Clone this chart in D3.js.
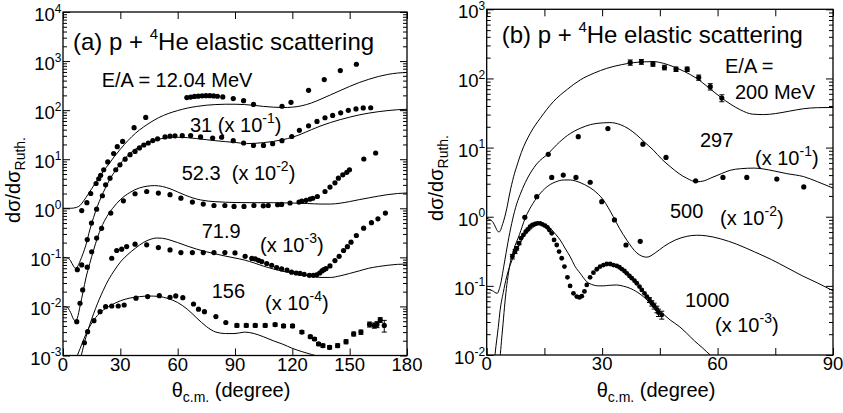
<!DOCTYPE html>
<html><head><meta charset="utf-8">
<script src="https://cdn.jsdelivr.net/npm/d3@7"></script>
<style>
body{margin:0;background:#fff}
text{font-family:"Liberation Sans",Arial,Helvetica,sans-serif;fill:#000}
</style></head>
<body><svg id="c" width="843" height="413"></svg>
<script>
// ---------------- DATA: panel (a) ----------------
const aXTicks = [0,30,60,90,120,150,180];
const aYExps = [-3,-2,-1,0,1,2,3,4];
// 12.04 MeV (x1)
const a1204Pts = [[9.8,0.9],[12.5,1.3],[14.5,2.0],[17.3,3.2],[18.7,4.0],[19.7,4.7],[21.3,6.1],[23.4,8.8],[26.5,13],[28.4,18],[31.2,23],[37.2,44],[43.3,71],
 [64.8,180],[66.8,185],[68.8,190],[70.8,193],[72.8,196],[74.8,197],[76.8,197],[78.8,195],[80.8,192],[83.6,186],
 [89.1,172],[94.5,156],[99.7,131],[114.6,120],[119.3,144],[128.5,254],[136.7,419],[145.1,640],[153.5,861]];
const a1204Curve = [[0,1],[4,1],[7,1.04],[9,1.15],[11,1.45],[13,1.9],[15,2.5],[17,3.3],[19,4.3],[21,5.6],[24,8],[27,11.5],[30,16],[34,24],[38,34],[42,45],[46,57],[50,70],[55,85],[60,98],[65,110],[70,119],[75,126],[80,130],[85,132],[90,132],[95,130],[100,125],[105,119],[110,115],[115,113],[120,115],[125,123],[130,140],[135,168],[140,205],[145,250],[150,305],[155,365],[160,425],[165,485],[170,535],[175,570],[180,585]];
// 31 MeV (x 1e-1)
const a31Pts = [[7.5,0.056],[9.8,0.07],[12.7,0.23],[14.9,0.5],[17.6,0.96],[20.6,1.8],[22.3,3.0],[24.6,4.1],[27.6,6.1],[29.8,7.7],[32.5,10],[35.1,12.4],[37.7,14.4],[40,17],[42.3,19.5],[44.6,21.4],[47,24],[49.5,26],[53.4,28.4],[56,29.5],[58.6,30],[62.4,30.2],[66.8,30.3],[72,28.4],[78.3,27],[83,28],[89.1,23.9],[94.5,21.4],[99.7,19.1],[104.9,19.1],[109.7,20.7],[114.6,23.9],[119.7,29],[123.7,38.7],[128.5,48],[132.9,59],[137.1,70],[141.1,78],[145.3,88],[149.3,99],[153.3,106],[157.1,111],[161,112]];
const a31Curve = [[0,0.1],[2,0.098],[4,0.085],[5.5,0.066],[6.5,0.06],[7.5,0.064],[9,0.085],[10.5,0.12],[12,0.18],[14,0.36],[16,0.65],[18,1.1],[20,1.7],[22,2.5],[25,4.2],[28,6.3],[31,9],[35,13],[40,18],[45,22],[50,25.5],[55,27.5],[60,28],[65,27.5],[70,26.3],[75,25],[80,23.8],[85,22.8],[90,22],[96,20.8],[100,21],[105,21.8],[110,23],[115,25],[120,28],[125,33],[130,40],[135,48],[140,56],[145,64],[150,72],[155,80],[160,87],[165,93],[170,98],[175,102],[180,104]];
// 52.3 MeV (x 1e-2)
const a523Pts = [[7.2,0.0049],[8.9,0.0116],[10.3,0.0217],[12.7,0.063],[15,0.13],[17.6,0.247],[20.2,0.39],[25,0.8],[31.6,1.42],[37.7,1.98],[43.8,2.2],[49.9,2.04],[56,1.89],[61.7,1.61],[67.7,1.34],[73.4,1.22],[79,1.14],[84.7,1.14],[89.5,1.09],[94.7,1.09],[99.9,1.14],[104.8,1.12],[107.4,1.14],[112.3,1.18],[114.4,1.2],[118.8,1.28],[123.5,1.34],[125,1.4],[127.2,1.45],[129.3,1.54],[130.7,1.6],[133.1,1.74],[137.1,2.2],[139.7,2.7],[142.3,3.3],[144.1,4.1],[146.4,4.8],[148.5,5.4],[149.9,6.1],[157.4,10.1],[163.6,13.4]];
const a523Curve = [[0,0.01],[2,0.0097],[4,0.0075],[5.5,0.0055],[6.5,0.005],[7.5,0.0058],[9,0.0105],[10.5,0.02],[12,0.038],[14,0.075],[16,0.14],[18,0.25],[20,0.4],[23,0.68],[26,1.0],[30,1.5],[35,2.1],[40,2.6],[44,2.82],[48,2.9],[52,2.78],[56,2.5],[60,2.15],[64,1.85],[68,1.62],[72,1.48],[76,1.4],[80,1.36],[85,1.33],[90,1.31],[100,1.3],[110,1.3],[120,1.28],[128,1.25],[135,1.22],[140,1.22],[145,1.27],[150,1.37],[155,1.5],[160,1.63],[165,1.77],[170,1.9],[175,2.0],[180,2.05]];
// 71.9 MeV (x 1e-3)
const a719Pts = [[25.5,0.096],[28.1,0.138],[30.7,0.147],[33.3,0.166],[37.7,0.186],[43.8,0.18],[49.9,0.158],[56,0.142],[61.7,0.125],[67.7,0.125],[73.4,0.125],[79,0.125],[84.7,0.125],[90,0.123],[95.3,0.105],[98.8,0.095],[100.6,0.093],[102.3,0.087],[104,0.082],[106.6,0.075],[109.2,0.069],[111.8,0.062],[114.4,0.058],[117.2,0.055],[119.6,0.05],[122,0.048],[124,0.047],[126.2,0.045],[128.9,0.043],[131,0.043],[132.7,0.044],[134.3,0.048],[135.5,0.053],[136.5,0.056],[137.6,0.059],[139.7,0.067],[142.3,0.086],[144.5,0.105],[146.8,0.138],[148.8,0.165],[150.7,0.204],[153.5,0.279],[157.3,0.394],[161.4,0.51],[164.8,0.61],[168.7,0.8]];
const a719Curve = [[8,0.0008],[9.5,0.001],[11,0.0017],[13,0.0032],[15,0.0055],[17,0.009],[19,0.014],[21,0.021],[24,0.036],[27,0.055],[30,0.08],[34,0.115],[38,0.155],[42,0.2],[46,0.235],[49,0.248],[52,0.245],[56,0.225],[60,0.2],[65,0.17],[70,0.147],[75,0.13],[80,0.117],[85,0.106],[90,0.097],[95,0.088],[100,0.077],[105,0.066],[110,0.058],[115,0.052],[120,0.048],[125,0.044],[130,0.041],[135,0.039],[140,0.039],[145,0.042],[150,0.047],[155,0.053],[160,0.06],[165,0.065],[170,0.069],[175,0.072],[180,0.073]];
// 156 MeV (x 1e-4)  [theta, value, error]
const a156Pts = [[11.2,0.00182],[12.9,0.00306],[16.2,0.00513],[19.4,0.00783],[22.3,0.0099],[25.5,0.0102],[28.9,0.0102],[32,0.0107],[38.2,0.0147],[44.3,0.0159],[50.4,0.0166],[56,0.0154],[59,0.0164],[62.7,0.0151],[68.3,0.0112],[70.9,0.0088],[74,0.0078],[80,0.0062],[85.2,0.0047],[91,0.0041,0.0003],[95.9,0.0041,0.0003],[100.6,0.0041,0.0003],[105.8,0.0041,0.0003],[111,0.00426,0.0003],[115.4,0.004,0.0003],[120.1,0.004,0.0003],[125,0.003,0.0002],[129.4,0.00242,0.00016],[131.6,0.00217,0.00015],[133.7,0.00172,0.00012],[136,0.00159,0.00012],[139.5,0.00147,0.00012],[143.7,0.00159,0.00014],[148.1,0.00191,0.00018],[152.1,0.00275,0.00025],[155.9,0.003,0.0003],[160.4,0.0043,0.0005],[162.9,0.0041,0.0005],[164.3,0.0043,0.0006],[166,0.0053,0.0006],[168.1,0.0041,0.0011]];
const a156Curve = [[6,0.0007],[7.5,0.001],[9,0.0014],[11,0.0022],[13,0.0033],[16,0.0052],[20,0.0078],[25,0.0105],[30,0.013],[35,0.0148],[40,0.0158],[45,0.0163],[50,0.016],[55,0.0145],[60,0.012],[65,0.0088],[70,0.0058],[75,0.0039],[80,0.003],[85,0.0028],[90,0.0028],[95,0.003],[100,0.0028],[105,0.0024],[110,0.002],[115,0.0017],[120,0.0014],[125,0.0012],[130,0.00105],[135,0.00093],[140,0.0008]];

// ---------------- DATA: panel (b) ----------------
const bXTicks = [0,15,30,45,60,75,90];
const bXLabels = [0,30,60,90];
const bYExps = [-2,-1,0,1,2,3];
const b200Pts = [[37.3,170,15],[40.2,174,14],[43.2,162,12],[46.2,144,11],[49.2,136,10],[52.1,136,10],[55.1,103,9],[58.1,76,8],[61.1,52,6]];
const b200Curve = [[0,0.95],[1.5,0.85],[3.2,0.6],[4.2,0.8],[5.2,1.3],[6,2.2],[7,3.8],[8,5.8],[9,8.5],[11.3,16],[14,27],[17.3,46],[21,70],[24.3,95],[28,120],[31.2,140],[35,158],[38.1,169],[41,174],[43.3,175],[46,165],[48.5,148],[51.5,125],[54.6,100],[57.5,75],[60.7,54],[63.5,42],[66,35],[69,30.5],[72,30],[75,31],[78.5,33.5],[82.4,36.5],[86,37.8],[90,38]];
const b297Pts = [[16,8.0],[23.8,14.4],[31.5,18.8],[40.6,11.2],[46.6,7.2],[54.3,3.3],[61.4,3.7],[67.6,3.7],[75.4,3.5],[82.4,2.7]];
const b297Curve = [[0,0.09],[1.5,0.085],[2.7,0.078],[3.5,0.1],[4.5,0.2],[5.5,0.42],[6.5,0.8],[7.5,1.35],[8.7,2.1],[10,3.1],[13,5.8],[16,8.2],[18.2,11],[21,15],[24.3,19],[27,21.5],[30.3,22.8],[32,23],[34.7,21.5],[37,18.5],[39,15.2],[41,12],[43.3,9.2],[45.5,6.8],[47.7,5.3],[50,4.2],[52,3.6],[54.5,3.2],[56.5,3.3],[58.1,3.6],[61,4.2],[63.3,4.7],[66,4.95],[69.5,5.05],[72,4.9],[74.6,4.6],[78,4.2],[82.4,3.8],[86,3.2],[90,2.6]];
const b500Pts = [[9.9,0.98],[13,1.95],[16.9,3.7],[19.9,4.0],[23.2,3.7],[26.9,3.15],[29.9,1.65],[33.2,0.9],[36.2,0.39],[39.9,0.44]];
const b500Curve = [[0,0.01],[1.5,0.008],[2.5,0.006],[3.3,0.008],[4,0.02],[5,0.08],[6,0.2],[7,0.33],[8.5,0.55],[10,0.95],[12,1.55],[14,2.2],[16,2.8],[18,3.2],[20,3.4],[21.7,3.4],[23,3.3],[25.5,2.9],[27.7,2.44],[30.3,1.75],[32.9,1.0],[34.5,0.68],[36.4,0.46],[39,0.3],[41.6,0.26],[43.8,0.3],[46,0.37],[49,0.46],[52,0.52],[54.6,0.54],[57,0.53],[60.7,0.48],[65,0.4],[69.6,0.31],[74,0.24],[78.3,0.18],[82,0.14],[86,0.11],[90,0.085]];
const b1000Pts = [[6.67,0.265,0.02],[7.36,0.313,0.02],[7.8,0.349,0.02],[8.4,0.413,0.02],[8.92,0.488],[9.53,0.545],[10.14,0.608],[10.66,0.658],[11.26,0.719],[11.87,0.76],[12.57,0.785],[13.17,0.803],[13.87,0.803],[14.47,0.777],[15.17,0.743],[15.77,0.703],[16.29,0.643],[16.9,0.575],[17.51,0.461],[18.2,0.39],[18.81,0.313],[19.5,0.251],[20.2,0.19],[20.98,0.133],[21.67,0.0998],[22.54,0.078],[23.4,0.07],[24.1,0.068],[24.71,0.071],[25.4,0.083],[26.01,0.103],[26.87,0.133],[27.74,0.155],[28.61,0.174],[29.47,0.19],[30.34,0.2],[31.21,0.207],[32.08,0.207],[32.94,0.2],[33.81,0.194],[34.5,0.186],[35.11,0.175],[35.8,0.164],[36.41,0.152],[37.1,0.139],[37.71,0.129],[38.41,0.119],[39.01,0.109],[39.71,0.0975],[40.31,0.0873],[41.01,0.078],[41.62,0.07],[42.31,0.0625,0.005],[42.92,0.056,0.005],[43.52,0.0512,0.005],[44.22,0.0458,0.005],[44.65,0.041,0.005],[45.5,0.038,0.005]];
const b1000Curve = [[1.5,0.004],[2.2,0.0106],[3,0.025],[3.5,0.045],[4.3,0.08],[5.2,0.136],[6.5,0.23],[7.8,0.33],[9.5,0.5],[11.3,0.64],[12.6,0.74],[13.9,0.785],[15,0.76],[16.5,0.68],[18,0.55],[19.1,0.46],[20.5,0.34],[21.7,0.264],[23,0.19],[24.3,0.152],[26,0.115],[27.7,0.103],[29,0.1],[30.3,0.1],[32,0.102],[33.8,0.103],[35.5,0.099],[37.3,0.092],[39,0.082],[40.7,0.07],[42,0.06],[43.3,0.053],[45.5,0.041],[47.7,0.032],[50,0.026],[52,0.0206],[54,0.016],[56,0.0128],[58.1,0.01],[60,0.0082]];

// ---------------- DRAW ----------------
const svg = d3.select("#c");
svg.append("rect").attr("width",843).attr("height",413).attr("fill","#fff");

function panel(cfg){
  const x = d3.scaleLinear().domain(cfg.xd).range([cfg.L,cfg.R]);
  const y = d3.scaleLog().domain(cfg.yd).range([cfg.B,cfg.T]);
  const g = svg.append("g");
  const cid = "clip"+cfg.id;
  svg.append("defs").append("clipPath").attr("id",cid).append("rect")
    .attr("x",cfg.L).attr("y",cfg.T).attr("width",cfg.R-cfg.L).attr("height",cfg.B-cfg.T);
  const plot = g.append("g").attr("clip-path",`url(#${cid})`);
  const line = d3.line().x(d=>x(d[0])).y(d=>y(d[1])).curve(d3.curveMonotoneX);
  cfg.curves.forEach(c=>{
    plot.append("path").attr("d",line(c)).attr("fill","none").attr("stroke","#000").attr("stroke-width",1);
  });
  cfg.points.forEach(s=>{
    const eb = s.pts.filter(d=>d[2]);
    plot.selectAll(null).data(eb).enter().append("path")
      .attr("d",d=>{const xx=x(d[0]),ya=y(d[1]+d[2]),yb=y(Math.max(d[1]-d[2],1e-9));
        return `M${xx},${ya}V${yb}M${xx-2.5},${ya}h5M${xx-2.5},${yb}h5`;})
      .attr("stroke","#000").attr("stroke-width",1).attr("fill","none");
    plot.selectAll(null).data(s.pts).enter().append("circle")
      .attr("cx",d=>x(d[0])).attr("cy",d=>y(d[1])).attr("r",s.r).attr("fill","#000");
  });
  // ticks
  const maj=7, mnr=4;
  const minors=[];
  cfg.exps.forEach(e=>{ for(let k=2;k<=9;k++){ const v=k*Math.pow(10,e); if(v<cfg.yd[1]) minors.push(v);} });
  const majors = cfg.exps.map(e=>Math.pow(10,e));
  const axG = g.append("g").attr("class","ax");
  axG.append("g").attr("transform",`translate(0,${cfg.B})`).call(d3.axisBottom(x).tickValues(cfg.xticks).tickSize(-maj).tickFormat(""));
  axG.append("g").attr("transform",`translate(0,${cfg.T})`).call(d3.axisTop(x).tickValues(cfg.xticks).tickSize(-maj).tickFormat(""));
  axG.append("g").attr("transform",`translate(${cfg.L},0)`).call(d3.axisLeft(y).tickValues(majors).tickSize(-maj).tickFormat(""));
  axG.append("g").attr("transform",`translate(${cfg.R},0)`).call(d3.axisRight(y).tickValues(majors).tickSize(-maj).tickFormat(""));
  axG.append("g").attr("transform",`translate(${cfg.L},0)`).call(d3.axisLeft(y).tickValues(minors).tickSize(-mnr).tickFormat(""));
  axG.append("g").attr("transform",`translate(${cfg.R},0)`).call(d3.axisRight(y).tickValues(minors).tickSize(-mnr).tickFormat(""));
  axG.selectAll(".domain").remove();
  axG.selectAll("line").attr("stroke","#000").attr("stroke-width",1);
  g.append("rect").attr("x",cfg.L).attr("y",cfg.T).attr("width",cfg.R-cfg.L).attr("height",cfg.B-cfg.T)
    .attr("fill","none").attr("stroke","#000").attr("stroke-width",1.3);
  // tick labels
  g.selectAll(null).data(cfg.xlabels).enter().append("text")
    .attr("x",d=>x(d)).attr("y",cfg.B+15).attr("text-anchor","middle").attr("font-size",18.5).text(d=>d);
  const yl = g.selectAll(null).data(cfg.exps).enter().append("text")
    .attr("x",cfg.L-1.5).attr("y",d=>y(Math.pow(10,d))+9).attr("text-anchor","end").attr("font-size",18.5);
  yl.append("tspan").text("10");
  yl.append("tspan").attr("font-size",12).attr("dy",-8.5).text(d=>String(d));
  // axis titles
  const yt = g.append("text").attr("transform",`translate(${cfg.ytx},${cfg.yty}) rotate(-90)`).attr("text-anchor","middle").attr("font-size",20);
  yt.append("tspan").text("dσ/dσ");
  yt.append("tspan").attr("font-size",14).attr("dy",5).text("Ruth.");
  const xt = g.append("text").attr("x",cfg.xtx).attr("y",396.7).attr("text-anchor","middle").attr("font-size",20);
  xt.append("tspan").text("θ");
  xt.append("tspan").attr("font-size",14).attr("dy",5).text("c.m.");
  xt.append("tspan").attr("dy",-5).text(" (degree)");
  return {x,y,g};
}

const pa = panel({id:"a",L:63,R:407,T:12,B:355.5,xd:[0,180],yd:[1e-3,1e4],exps:aYExps,xticks:aXTicks,xlabels:aXTicks,
  curves:[a1204Curve,a31Curve,a523Curve,a719Curve,a156Curve],
  points:[{pts:a1204Pts,r:2.6},{pts:a31Pts,r:2.6},{pts:a523Pts,r:2.6},{pts:a719Pts,r:2.6},{pts:a156Pts,r:2.6}],
  ytx:20,yty:180,xtx:231});
const pb = panel({id:"b",L:486.7,R:833,T:9.3,B:355,xd:[0,90],yd:[1e-2,1e3],exps:bYExps,xticks:bXTicks,xlabels:bXLabels,
  curves:[b200Curve,b297Curve,b500Curve,b1000Curve],
  points:[{pts:b200Pts,r:2.6},{pts:b297Pts,r:2.6},{pts:b500Pts,r:2.6},{pts:b1000Pts,r:2.4}],
  ytx:443,yty:178,xtx:656});

// labels
function title(x,y,tag){
  const t = svg.append("text").attr("x",x).attr("y",y).attr("font-size",24);
  t.append("tspan").text(tag+"  p + ");
  t.append("tspan").attr("font-size",15).attr("dy",-11).text("4");
  t.append("tspan").attr("dy",11).text("He elastic scattering");
}
title(73,50,"(a)");
title(501.7,43.3,"(b)");
function lab(x,y,pre,exp,post){
  const t = svg.append("text").attr("x",x).attr("y",y).attr("font-size",20).attr("xml:space","preserve");
  t.append("tspan").text(pre);
  if(exp!==undefined){
    t.append("tspan").attr("font-size",14).attr("dy",-9).text(exp);
    t.append("tspan").attr("dy",9).text(post);
  }
}
lab(101.7,86.7,"E/A = 12.04 MeV");
lab(190,131.7,"31 (x 10","-1",")");
lab(181.7,180,"52.3  (x 10","-2",")");
lab(201.7,238.3,"71.9");
lab(260,251.7,"(x 10","-3",")");
lab(211.7,298.3,"156");
lab(265,310,"(x 10","-4",")");
lab(725,72.7,"E/A =");
lab(735,99,"200 MeV");
lab(700,146.7,"297");
lab(755,165,"(x 10","-1",")");
lab(670,218.3,"500");
lab(720,225,"(x 10","-2",")");
lab(685,307.3,"1000");
lab(715,331.7,"(x 10","-3",")");
</script></body></html>
